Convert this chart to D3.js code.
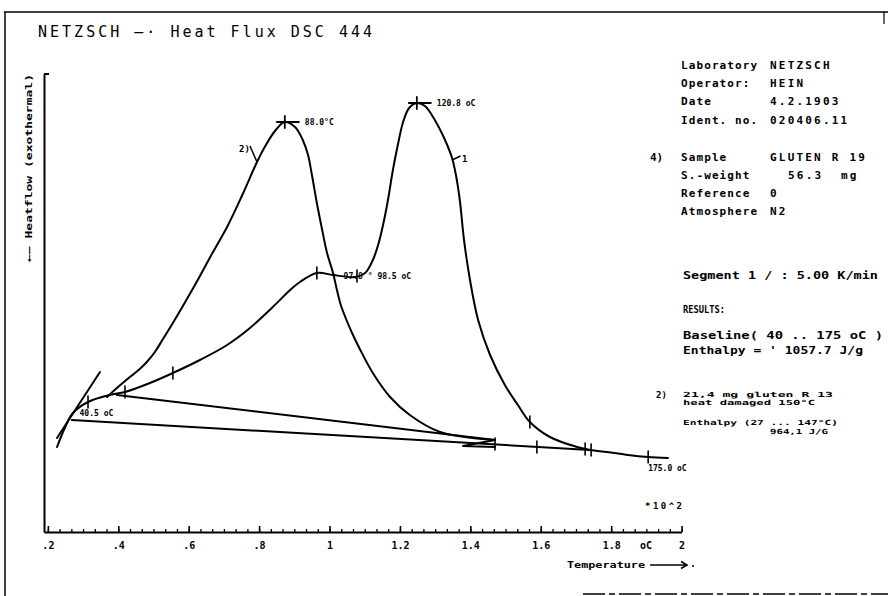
<!DOCTYPE html>
<html>
<head>
<meta charset="utf-8">
<script src="https://cdn.jsdelivr.net/npm/d3@7/dist/d3.min.js"></script>
<style>
  html, body { margin: 0; padding: 0; background: #fff; }
  svg { display: block; }
  text { font-family: "DejaVu Sans Mono", monospace; fill: #000; }
</style>
</head>
<body>
<svg id="chart" width="888" height="596"></svg>
<script>
// ---------------- DATA ----------------
// temperature in °C (axis shows ×10^2), heat flow in arbitrary units
const xTickValues = [20, 40, 60, 80, 100, 120, 140, 160, 180, 200];
const xTickLabels = [".2", ".4", ".6", ".8", "1", "1.2", "1.4", "1.6", "1.8", "2"];

// sample 1 (GLUTEN R 19)
const curve1 = [
  [22.6, 8.5], [24.8, 10.4], [27.1, 11.9], [31.4, 13.0], [37.6, 13.7], [41.9, 14.0],
  [49.0, 14.9], [55.5, 15.9], [63.2, 17.2], [70.9, 18.7], [77.4, 20.4], [83.9, 22.5],
  [88.8, 24.2], [91.6, 25.0], [96.4, 25.9], [101.0, 25.7], [107.2, 25.5], [110.1, 25.9],
  [112.3, 27.2], [113.8, 28.7], [115.2, 30.7], [116.6, 33.2], [118.0, 36.2], [119.4, 38.7],
  [120.9, 41.0], [122.6, 42.4], [124.8, 42.9], [127.1, 42.6], [129.9, 41.2], [132.8, 39.2],
  [134.8, 37.4], [135.9, 35.7], [137.0, 33.2], [138.2, 29.2], [139.9, 25.2], [142.2, 21.2],
  [145.6, 17.7], [149.8, 14.7], [153.5, 12.7], [156.9, 11.0], [162.6, 9.5], [170.3, 8.5],
  [174.0, 8.2], [178.8, 8.0], [184.8, 7.7], [190.5, 7.5], [196.1, 7.4]
];
// sample 2 (21,4 mg gluten R 13, heat damaged)
const curve2Start = [[22.6, 9.4], [28.5, 12.6], [34.8, 16.0]];
const curve2 = [
  [36.8, 13.5], [39.6, 14.4], [43.3, 15.5], [46.1, 16.3], [48.1, 17.0], [50.4, 18.0],
  [52.7, 19.3], [55.5, 20.9], [59.5, 23.3], [63.2, 25.6], [66.9, 28.0], [70.9, 30.5],
  [75.1, 33.6], [79.4, 37.0], [81.6, 38.5], [84.5, 40.1], [87.3, 41.0], [90.2, 40.5],
  [92.4, 39.2], [93.9, 37.7], [95.0, 35.7], [96.4, 32.9], [97.8, 30.4], [99.3, 27.9],
  [101.0, 25.9], [102.1, 24.2], [103.2, 22.7], [104.7, 21.3], [106.4, 19.9], [108.6, 18.3],
  [112.3, 15.9], [117.2, 13.5], [122.8, 11.7], [131.4, 10.0], [147.0, 9.2]
];
const curve2Tail = [[147.0, 9.2], [137.9, 8.6], [147.0, 8.5]];

// baselines
const baselineA = [[39.6, 13.7], [147.0, 9.2]];
const baselineB = [[26.8, 11.2], [174.0, 8.2]];

// evaluation tick marks
const curveTicks = [[31.4, 13.0], [41.9, 14.0], [55.5, 15.9], [96.4, 25.9], [107.8, 25.6],
  [156.9, 11.0], [172.6, 8.3], [174.3, 8.2], [190.5, 7.5], [147.0, 8.8], [158.9, 8.5]];
const peakMarks = [[124.8, 42.9], [87.3, 41.0]];

// curve annotations: [text, T, h]
const peakLabels = [["120.8 oC", 124.8, 42.9], ["88.0°C", 87.3, 41.0]];
const otherLabels = [["97.8 °", 104.0, 25.6], ["98.5 oC", 113.6, 25.6],
  ["40.5 oC", 29.0, 11.9], ["175.0 oC", 190.5, 6.4]];

// info panel
const infoKeys = ["Laboratory", "Operator:", "Date", "Ident. no.", "Sample", "S.-weight", "Reference", "Atmosphere"];
const infoVals = ["NETZSCH", "HEIN", "4.2.1903", "020406.11", "GLUTEN R 19", "56.3  mg", "0", "N2"];
const resultLines = ["Segment 1 / : 5.00 K/min", "RESULTS:", "Baseline( 40 .. 175 oC )", "Enthalpy = ' 1057.7 J/g"];
const note2Lines = ["21,4 mg gluten R 13", "heat damaged 150°C", "Enthalpy (27 ... 147°C)", "964,1 J/G"];

// ---------------- DRAW ----------------
const svg = d3.select("#chart");
const x = d3.scaleLinear().domain([18.9, 200]).range([44, 681.6]);
const y = d3.scaleLinear().domain([0, 45.8]).range([532, 74]);

// outer frame
const frame = svg.append("g").attr("stroke", "#000").attr("fill", "none");
frame.append("line").attr("x1", 4).attr("x2", 888).attr("y1", 12).attr("y2", 12).attr("stroke-width", 1.5);
frame.append("line").attr("x1", 5).attr("x2", 5).attr("y1", 12).attr("y2", 596).attr("stroke-width", 1.5);
frame.append("line").attr("x1", 884).attr("x2", 884).attr("y1", 12).attr("y2", 24).attr("stroke-width", 1.2);
frame.append("line").attr("x1", 583).attr("x2", 888).attr("y1", 594).attr("y2", 594)
  .attr("stroke-width", 1.5).attr("stroke-dasharray", "22,4,6,4");

// title
svg.append("text").attr("x", 38).attr("y", 37)
  .attr("font-size", 15).attr("textLength", 334).attr("lengthAdjust", "spacing")
  .text("NETZSCH —· Heat Flux DSC 444");

// axes
const minorVals = d3.range(20, 200.001, 20 / 6);
const gMinor = svg.append("g").attr("transform", "translate(0,532)")
  .call(d3.axisBottom(x).tickValues(minorVals).tickSize(-3).tickSizeOuter(0).tickFormat(""));
gMinor.select(".domain").remove();
gMinor.selectAll(".tick line").attr("stroke", "#000").attr("stroke-width", 1.3);

const gx = svg.append("g").attr("transform", "translate(0,532)")
  .call(d3.axisBottom(x).tickValues(xTickValues).tickSize(-6).tickSizeOuter(0).tickPadding(10)
    .tickFormat((d, i) => xTickLabels[i]));
gx.select(".domain").attr("stroke", "#000").attr("stroke-width", 2);
gx.selectAll(".tick line").attr("stroke", "#000").attr("stroke-width", 1.6);
gx.selectAll(".tick text").attr("font-size", 10).attr("font-weight", "bold")
  .attr("font-family", "DejaVu Sans Mono, monospace").attr("fill", "#000");

const gy = svg.append("g").attr("transform", "translate(44,0)")
  .call(d3.axisLeft(y).tickValues([]).tickSizeOuter(0));
gy.select(".domain").attr("stroke", "#000").attr("stroke-width", 2);
svg.append("line").attr("x1", 44).attr("x2", 49).attr("y1", y(45.8)).attr("y2", y(45.8))
  .attr("stroke", "#000").attr("stroke-width", 2);

// axis annotations
svg.append("text").attr("x", 640).attr("y", 549).attr("font-size", 10).attr("font-weight", "bold").text("oC");
svg.append("text").attr("x", 645).attr("y", 509).attr("font-size", 9).attr("font-weight", "bold")
  .attr("textLength", 37).attr("lengthAdjust", "spacing").text("*10^2");
svg.append("text").attr("x", 567).attr("y", 568).attr("font-size", 9).attr("font-weight", "bold")
  .attr("textLength", 78).attr("lengthAdjust", "spacingAndGlyphs").text("Temperature");
svg.append("line").attr("x1", 650).attr("x2", 686).attr("y1", 565).attr("y2", 565)
  .attr("stroke", "#000").attr("stroke-width", 1.6);
svg.append("path").attr("d", "M681,561.5L687,565L681,568.5").attr("fill", "none")
  .attr("stroke", "#000").attr("stroke-width", 1.6);
svg.append("circle").attr("cx", 693).attr("cy", 566).attr("r", 1).attr("fill", "#000");
svg.append("text").attr("transform", "translate(32,262) rotate(-90)")
  .attr("font-size", 9).attr("font-weight", "bold")
  .attr("textLength", 188).attr("lengthAdjust", "spacingAndGlyphs")
  .text("←— Heatflow (exothermal)");

// curves
const lineSmooth = d3.line().x(d => x(d[0])).y(d => y(d[1])).curve(d3.curveCatmullRom.alpha(0.5));
const lineStraight = d3.line().x(d => x(d[0])).y(d => y(d[1]));
const cg = svg.append("g").attr("fill", "none").attr("stroke", "#000")
  .attr("stroke-width", 2).attr("stroke-linejoin", "round").attr("stroke-linecap", "round");
cg.append("path").attr("d", lineSmooth(curve1));
cg.append("path").attr("d", lineStraight(curve2Start));
cg.append("path").attr("d", lineSmooth(curve2));
cg.append("path").attr("d", lineStraight(curve2Tail));
cg.append("path").attr("d", lineStraight(baselineA));
cg.append("path").attr("d", lineStraight(baselineB));

// tick marks on curves
cg.selectAll(".ctick").data(curveTicks).join("line")
  .attr("x1", d => x(d[0])).attr("x2", d => x(d[0]))
  .attr("y1", d => y(d[1]) - 6).attr("y2", d => y(d[1]) + 6).attr("stroke-width", 1.6);
cg.selectAll(".pv").data(peakMarks).join("line")
  .attr("x1", d => x(d[0])).attr("x2", d => x(d[0]))
  .attr("y1", d => y(d[1]) - 6).attr("y2", d => y(d[1]) + 6).attr("stroke-width", 1.8);
cg.selectAll(".ph").data(peakMarks).join("line")
  .attr("x1", d => x(d[0]) - 8).attr("x2", d => x(d[0]) + 14)
  .attr("y1", d => y(d[1])).attr("y2", d => y(d[1])).attr("stroke-width", 1.8);

// curve labels
const lg = svg.append("g").attr("font-size", 8).attr("font-weight", "bold");
lg.selectAll(".pl").data(peakLabels).join("text")
  .attr("x", d => x(d[1]) + 20).attr("y", d => y(d[2]) + 3).text(d => d[0]);
lg.selectAll(".ol").data(otherLabels).join("text")
  .attr("x", d => x(d[1])).attr("y", d => y(d[2]) + 3).text(d => d[0]);

// curve number labels with leaders
svg.append("text").attr("x", 239).attr("y", 152).attr("font-size", 9).attr("font-weight", "bold").text("2)");
svg.append("line").attr("x1", x(77.4)).attr("y1", y(38.6)).attr("x2", x(79.4)).attr("y2", y(37.0))
  .attr("stroke", "#000").attr("stroke-width", 1.5);
svg.append("line").attr("x1", x(134.8)).attr("y1", y(37.2)).attr("x2", x(137.2)).attr("y2", y(37.6))
  .attr("stroke", "#000").attr("stroke-width", 1.5);
svg.append("text").attr("x", x(137.6)).attr("y", y(37.4) + 4).attr("font-size", 9).attr("font-weight", "bold").text("1");

// info panel
const ig = svg.append("g").attr("font-size", 11).attr("font-weight", "bold");
const infoY = [69, 87, 105, 124, 161, 179, 197, 215];
ig.selectAll(".k").data(infoKeys).join("text")
  .attr("x", 681).attr("y", (d, i) => infoY[i]).attr("letter-spacing", 1.1).text(d => d);
ig.selectAll(".v").data(infoVals).join("text")
  .attr("x", (d, i) => i === 5 ? 788 : 770).attr("y", (d, i) => infoY[i]).attr("letter-spacing", 2.2)
  .style("white-space", "pre").text(d => d);
ig.append("text").attr("x", 650).attr("y", 161).text("4)");

const resY = [279, 313, 339, 354];
const resW = [195, 42, 200, 180];
ig.selectAll(".r").data(resultLines).join("text")
  .attr("x", 683).attr("y", (d, i) => resY[i])
  .attr("textLength", (d, i) => resW[i]).attr("lengthAdjust", "spacingAndGlyphs")
  .style("white-space", "pre").text(d => d);

ig.append("text").attr("x", 656).attr("y", 398).attr("font-size", 9).text("2)");
const noteX = [683, 683, 683, 770];
const noteY = [397, 405, 425, 434];
const noteW = [150, 132, 155, 58];
svg.append("g").attr("font-size", 7).attr("font-weight", "bold")
  .selectAll("text").data(note2Lines).join("text")
  .attr("x", (d, i) => noteX[i]).attr("y", (d, i) => noteY[i])
  .attr("textLength", (d, i) => noteW[i]).attr("lengthAdjust", "spacingAndGlyphs")
  .text(d => d);
</script>
</body>
</html>
